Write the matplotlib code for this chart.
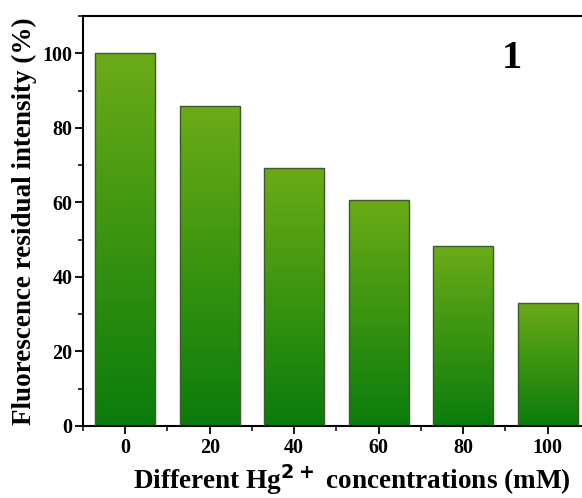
import numpy as np
import matplotlib
matplotlib.use("Agg")
import matplotlib.pyplot as plt
from matplotlib.colors import LinearSegmentedColormap
from matplotlib.ticker import MultipleLocator

# data
concentrations = [0, 20, 40, 60, 80, 100]
residual = [100, 85.8, 69.2, 60.6, 48.4, 33.1]

plt.rcParams['font.family'] = ['Liberation Serif', 'DejaVu Serif']
plt.rcParams['font.weight'] = 'bold'
plt.rcParams['mathtext.fontset'] = 'dejavusans'

fig = plt.figure(figsize=(5.82, 4.98), dpi=100)
ax = fig.add_axes([0.1426, 0.1446, 0.871, 0.8233])

cmap = LinearSegmentedColormap.from_list('grn', ['#0a7c0c', '#3a9410', '#6cab18'])
grad = np.linspace(0, 1, 256).reshape(-1, 1)

bars = ax.bar(concentrations, residual, width=14.2, color='none',
              edgecolor='#3d5a2a', linewidth=1.0, zorder=3)
for b in bars:
    x0, y0 = b.get_x(), b.get_y()
    w, h = b.get_width(), b.get_height()
    im = ax.imshow(grad, cmap=cmap, aspect='auto', origin='lower',
                   extent=[x0, x0 + w, y0, y0 + h], zorder=2)
    im.set_clip_path(b)

ax.set_xlim(-10, 110)
ax.set_ylim(0, 110)
ax.set_xticks(concentrations)
ax.set_yticks([0, 20, 40, 60, 80, 100])
ax.xaxis.set_minor_locator(MultipleLocator(10))
ax.yaxis.set_minor_locator(MultipleLocator(10))
ax.tick_params(which='major', direction='out', length=5.5, width=1.3, labelsize=14.5)
ax.tick_params(which='minor', direction='out', length=3.5, width=1.1)
ax.tick_params(axis='x', pad=3)
ax.tick_params(axis='y', pad=2)
for sp in ax.spines.values():
    sp.set_linewidth(1.5)

ax.set_xlabel('Different Hg$^{\\mathbf{2+}}$ concentrations (mM)', fontsize=19.6,
              fontweight='bold', labelpad=2)
ax.xaxis.set_label_coords(0.531, -0.088)
ax.set_ylabel('Fluorescence residual intensity (%)', fontsize=19.5,
              fontweight='bold', labelpad=4)

ax.text(91.5, 98.5, '1', fontsize=29, fontweight='bold', ha='center', va='center')

fig.savefig('out.png', dpi=100)
